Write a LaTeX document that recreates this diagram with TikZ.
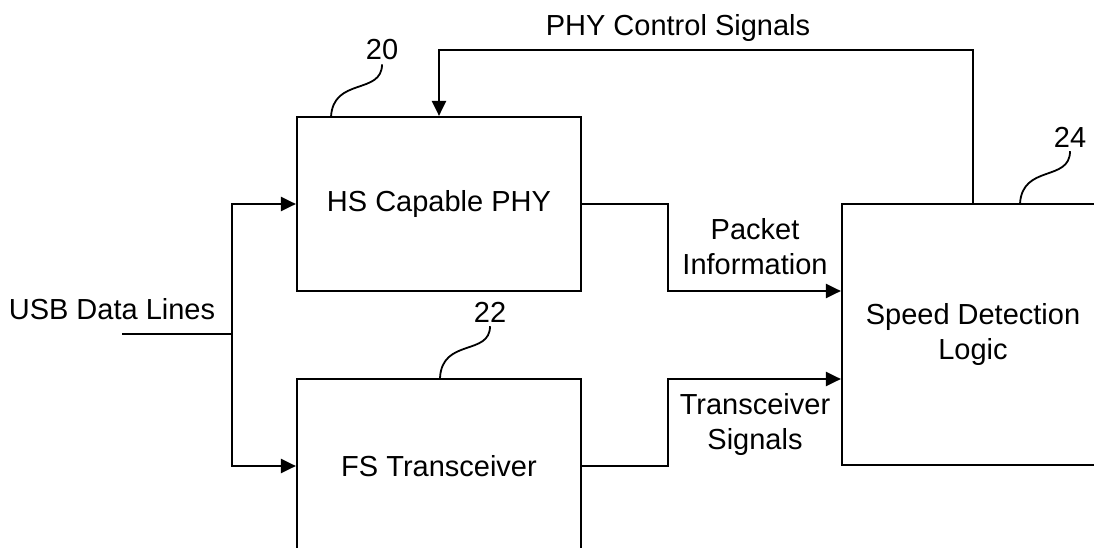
\documentclass[tikz,border=0pt]{standalone}
\usepackage{fontspec}
\setmainfont{Liberation Sans}
\usetikzlibrary{arrows.meta}

\begin{document}
\begin{tikzpicture}[x=1pt,y=1pt,line width=2.2pt,
  font=\fontsize{29}{35}\selectfont,
  blk/.style={draw,minimum width=284pt,minimum height=174pt,inner sep=0pt,align=center},
  sig/.style={-{Triangle[length=15pt,width=14pt]}},
  lead/.style={line width=1.8pt},
  ref/.style={inner sep=3pt}]
  \clip (0,0) rectangle (1094,547);
  \node[blk] (hsphy) at (439,343) {HS Capable PHY};
  \node[blk] (fstrx) at (439,81) {FS Transceiver};
  \node[blk,minimum width=262pt,minimum height=261pt] (speed) at (973,212.5) {Speed Detection\\Logic};
  % usb input
  \coordinate (usbin) at (122,213);
  \coordinate (split) at (232,213);
  \node[align=center] (usblbl) at (112,238) {USB Data Lines};
  \draw (usbin) -- (split);
  \draw[sig] (split) |- (hsphy.west);
  \draw[sig] (split) |- (fstrx.west);
  % outputs
  \draw[sig] (hsphy.east) -- (668,343) -- (668,256) -- (speed.west |- 0,256);
  \draw[sig] (fstrx.east) -- (668,81) -- (668,168) -- (speed.west |- 0,168);
  \node[align=center] (pktlbl) at (755,300) {Packet\\Information};
  \node[align=center] (trxlbl) at (755,123) {Transceiver\\Signals};
  % feedback
  \draw[sig] (speed.north) -- ++(0,153) -| (hsphy.north);
  \node (ctllbl) at (678,519) {PHY Control Signals};
  % reference numerals
  \node[ref] (n20) at (382,497) {20};
  \node[ref] (n22) at (490,235) {22};
  \node[ref] (n24) at (1070,410) {24};
  \draw[lead] (331,430) .. controls (333,470) and (382,452) .. (n20.south);
  \draw[lead] (440,169) .. controls (442,209) and (490,191) .. (n22.south);
  \draw[lead] (1020,343) .. controls (1022,383) and (1070,365) .. (n24.south);
\end{tikzpicture}
\end{document}
